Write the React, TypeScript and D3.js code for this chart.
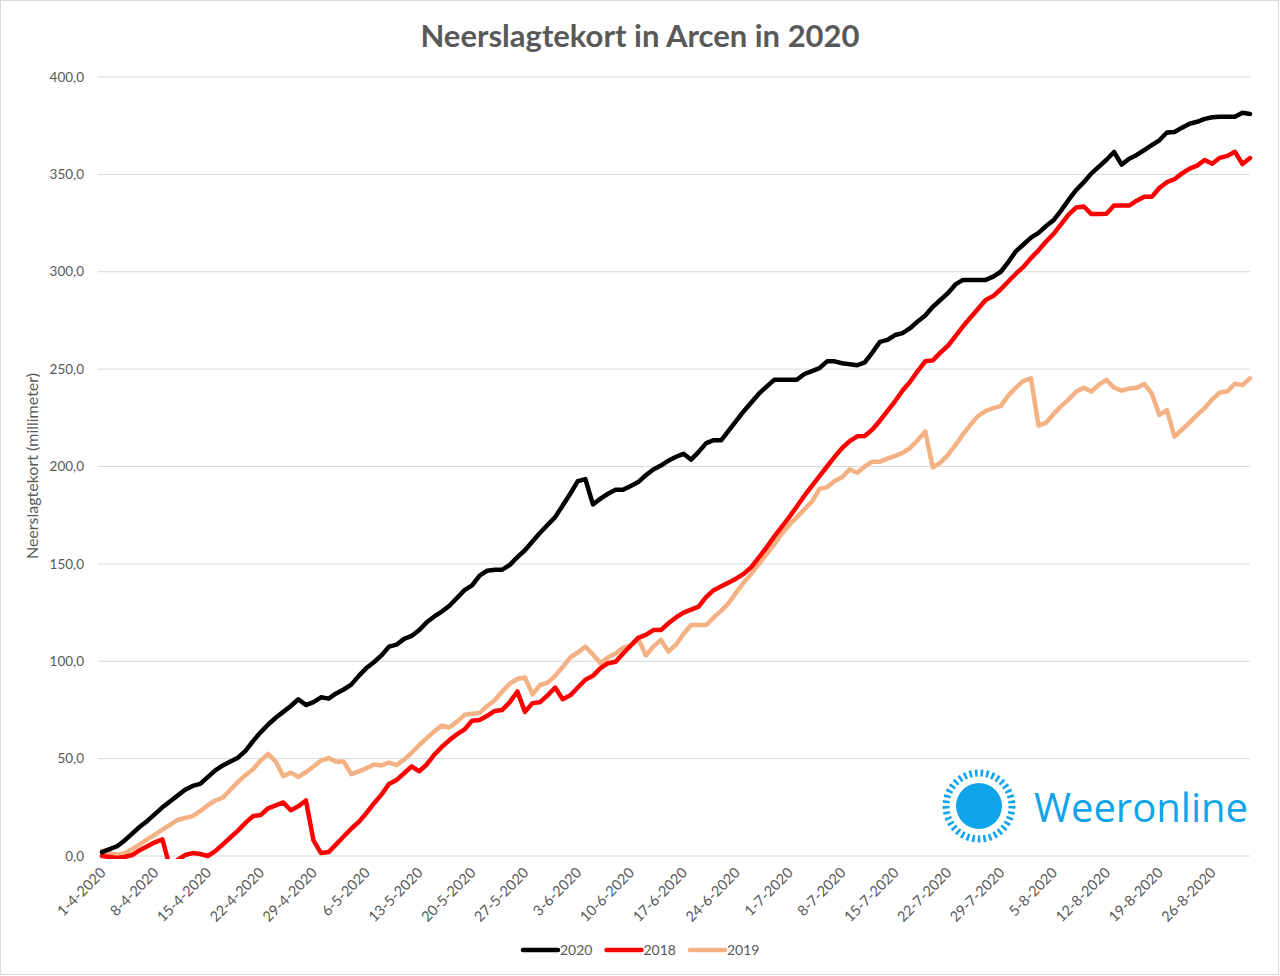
import React, { useRef, useEffect } from "react";
import * as d3 from "d3";

// dagen 1-4-2020 t/m 31-8-2020
const days = d3.timeDay.range(new Date(2020, 3, 1), new Date(2020, 8, 1));
const fmt = d3.timeFormat("%-d-%-m-%Y");
const categories = days.map((d) => fmt(d));
const yTicks = [0, 50, 100, 150, 200, 250, 300, 350, 400];

// neerslagtekort in mm, per dag
const v2020 = [
  2, 3.5, 5, 8, 11.5, 15, 18, 21.5, 25, 28, 31, 34, 36, 37, 40.5, 44, 46.5, 48.5, 50.5, 54,
  59, 63.5, 67.5, 71, 74, 77, 80.5, 77.5, 79, 81.5, 80.8, 83.5, 85.5, 88, 92.5, 96.5, 99.5, 103, 107.5, 108.5,
  111.5, 113, 116, 120, 123, 125.5, 128.5, 132.5, 136.5, 139, 144, 146.5, 147, 147, 149.5, 153.5, 157, 161.5, 166, 170,
  174, 180, 186, 192.5, 193.5, 180.5, 183.5, 186, 188, 188, 190, 192, 195.5, 198.5, 200.5, 203, 205, 206.5, 203.5, 207.5,
  212, 213.5, 213.5, 218.5, 223.5, 228.5, 233, 237.5, 241, 244.5, 244.5, 244.5, 244.5, 247.5, 249, 250.5, 254, 254, 253, 252.5,
  252, 253.5, 258.5, 264, 265, 267.5, 268.5, 271, 274.5, 277.5, 282, 285.5, 289, 293.5, 295.8, 295.8, 295.8, 295.8, 297.5, 300,
  305, 310.5, 314, 317.5, 320, 323.5, 326.5, 331.5, 337, 342, 346, 350.5, 354, 357.5, 361.5, 355, 358, 360, 362.5, 365,
  367.5, 371.5, 371.8, 374, 376, 377, 378.5, 379.3, 379.6, 379.6, 379.6, 381.6, 381,
];

const v2018 = [
  0, -0.5, -1, -0.5, 0.5, 3, 5, 7, 8.5, -6, -2, 0.5, 1.5, 1, 0, 2.5, 6, 9.5, 13, 17,
  20.5, 21, 24.5, 26, 27.5, 23.5, 25.5, 28.5, 8, 1.5, 2, 6, 10, 14, 17.5, 22, 27, 31.5, 37, 39,
  42.5, 46, 43.5, 47, 52, 56, 59.5, 62.5, 65, 69.5, 69.8, 72, 74.5, 75, 79, 84.5, 74, 78.5, 79, 82.5,
  86.5, 80.5, 82.5, 86.5, 90.5, 92.5, 96.5, 99, 99.7, 104, 108, 112, 113.5, 116, 116, 119.5, 122.5, 125, 126.5, 128,
  133, 136.5, 138.5, 140.5, 142.5, 145, 148.5, 153.5, 158.5, 164, 169, 174, 179.5, 185, 190, 195, 200, 205, 209.5, 213,
  215.5, 215.7, 219, 223.5, 228.5, 233.5, 239, 243.5, 249, 254, 254.5, 258.5, 262, 267, 272, 276.5, 281, 285.5, 287.5, 291,
  295, 299, 302.5, 307, 311, 315.5, 319.5, 324.5, 329.5, 333, 333.5, 329.6, 329.6, 329.8, 334, 334, 334, 336.5, 338.5, 338.5,
  343, 346, 347.5, 350.5, 353, 354.5, 357.4, 355.5, 358.5, 359.5, 361.6, 355.3, 358.4,
];

const v2019 = [
  2.7, 1.5, 0.5, 1.5, 3.5, 6, 8.5, 11, 13.5, 16, 18.5, 19.5, 20.5, 23, 26, 28.5, 30, 34, 38, 41.5,
  44.5, 49, 52.4, 48.5, 41, 42.8, 40.6, 43, 46, 49, 50.3, 48.4, 48.5, 42, 43.5, 45, 47, 46.5, 48, 46.7,
  49.5, 53, 57, 60.5, 64, 67, 66, 69, 72.5, 73, 73.5, 77, 80, 84.5, 88.5, 91, 91.7, 83, 87.8, 89,
  92.5, 97, 102, 104.5, 107.5, 103.5, 99, 102, 104, 107, 108, 111.7, 103, 107.5, 111, 104.9, 108.5, 114, 118.6, 118.6,
  118.6, 122.5, 126, 130, 135.5, 140.5, 145, 150, 155, 160, 165.5, 170, 174, 178, 182, 188.5, 189.3, 192.5, 194.5, 198.5,
  196.8, 200, 202.5, 202.5, 204, 205.5, 207, 209.5, 213.5, 218, 199.5, 202, 206, 211, 216.5, 221.5, 226, 228.5, 230, 231,
  236.5, 240.5, 244, 245.3, 221, 222.5, 227, 231, 234.5, 238.5, 240.5, 238.5, 242, 244.5, 240.5, 239, 240, 240.4, 242.4, 237.5,
  226.5, 229, 215.3, 219, 222.5, 226.5, 230, 234.5, 238, 238.5, 242.5, 241.8, 245.3,
];

const seriesNames = ["2020", "2018", "2019"];
const seriesValues = [v2020, v2018, v2019];
const seriesColors = ["#000000", "#ff0000", "#f4b183"];

const W = 1280;
const H = 976;
const FONT = "Lato, 'Open Sans', sans-serif";

export default function App() {
  const ref = useRef<SVGSVGElement>(null);

  useEffect(() => {
    if (!ref.current) return;
    const svg = d3.select(ref.current);
    svg.selectAll("*").remove();

    const x = d3.scalePoint<string>().domain(categories).range([102, 1250]);
    const y = d3.scaleLinear().domain([0, 400]).range([856, 77]);

    // kader
    svg.append("rect")
      .attr("x", 0.5).attr("y", 0.5)
      .attr("width", W - 2).attr("height", H - 2)
      .attr("fill", "#fff").attr("stroke", "#d9d9d9");

    // titel
    svg.append("text")
      .attr("x", 640).attr("y", 47)
      .attr("text-anchor", "middle")
      .attr("font-family", FONT).attr("font-weight", 700)
      .attr("font-size", 31).attr("fill", "#595959")
      .text("Neerslagtekort in Arcen in 2020");

    // grid + y labels
    const yAxis = svg.append("g");
    yAxis.selectAll("line")
      .data(yTicks)
      .join("line")
      .attr("x1", 98).attr("x2", 1250)
      .attr("y1", (d) => y(d)).attr("y2", (d) => y(d))
      .attr("stroke", "#d9d9d9").attr("stroke-width", 1);
    yAxis.selectAll("text")
      .data(yTicks)
      .join("text")
      .attr("x", 84).attr("y", (d) => y(d))
      .attr("dy", "0.35em")
      .attr("text-anchor", "end")
      .attr("font-family", FONT).attr("font-size", 13.5)
      .attr("fill", "#595959")
      .text((d) => d3.format(".1f")(d).replace(".", ","));

    svg.append("text")
      .attr("transform", "translate(38,466) rotate(-90)")
      .attr("text-anchor", "middle")
      .attr("font-family", FONT).attr("font-size", 16)
      .attr("fill", "#595959")
      .text("Neerslagtekort (millimeter)");

    // x labels, elke 7 dagen
    const xTicks = categories.filter((_, i) => i % 7 === 0);
    svg.append("g").selectAll("text")
      .data(xTicks)
      .join("text")
      .attr("transform", (d) => `translate(${(x(d) as number) + 1},870) rotate(-45)`)
      .attr("text-anchor", "end")
      .attr("dy", "0.35em")
      .attr("font-family", FONT).attr("font-size", 14.5)
      .attr("fill", "#595959")
      .text((d) => d);

    // lijnen
    svg.append("clipPath").attr("id", "plot-clip")
      .append("rect").attr("x", 90).attr("y", 60).attr("width", 1180).attr("height", 799);

    const line = d3.line<number>()
      .x((_, i) => x(categories[i]) as number)
      .y((d) => y(d));

    const lines = svg.append("g").attr("clip-path", "url(#plot-clip)");
    // volgorde: 2019 onder, dan 2018, 2020 bovenop
    [2, 1, 0].forEach((k) => {
      lines.append("path")
        .datum(seriesValues[k])
        .attr("d", line)
        .attr("fill", "none")
        .attr("stroke", seriesColors[k])
        .attr("stroke-width", 4.5)
        .attr("stroke-linejoin", "round")
        .attr("stroke-linecap", "round");
    });

    // legenda
    const legend = svg.append("g").attr("transform", "translate(523,950)");
    seriesNames.forEach((name, i) => {
      const g = legend.append("g").attr("transform", `translate(${i * 83.5},0)`);
      g.append("line")
        .attr("x1", 0).attr("x2", 35)
        .attr("stroke", seriesColors[i]).attr("stroke-width", 4.5)
        .attr("stroke-linecap", "round");
      g.append("text")
        .attr("x", 37).attr("dy", "0.35em")
        .attr("font-family", FONT).attr("font-size", 14)
        .attr("fill", "#595959")
        .text(name);
    });

    // logo
    const logo = svg.append("g").attr("transform", "translate(979,806)");
    logo.append("circle").attr("r", 23).attr("fill", "#10a4ea");
    logo.append("circle")
      .attr("r", 33)
      .attr("fill", "none")
      .attr("stroke", "#10a4ea")
      .attr("stroke-width", 7)
      .attr("stroke-dasharray", "2.6 3");
    svg.append("text")
      .attr("x", 1034).attr("y", 822)
      .attr("font-family", "'Open Sans', sans-serif")
      .attr("font-size", 40)
      .attr("fill", "#10a4ea")
      .text("Weeronline");
  }, []);

  return (
    <svg
      ref={ref}
      width={W}
      height={H}
      style={{ position: "absolute", left: 0, top: 0, background: "#fff" }}
    />
  );
}
